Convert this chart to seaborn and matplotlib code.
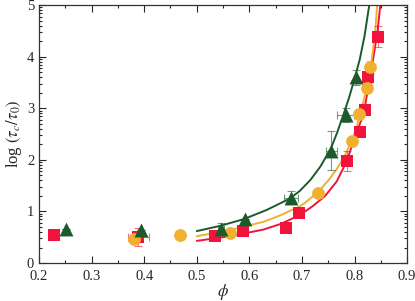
import numpy as np
import pandas as pd
import seaborn as sns
import matplotlib
matplotlib.use("Agg")
import matplotlib.pyplot as plt
from matplotlib.ticker import FixedLocator, MultipleLocator

# data
red_phi = [0.229, 0.389, 0.535, 0.587, 0.669, 0.695, 0.785, 0.811, 0.820, 0.825, 0.844]
red_y = [0.54, 0.51, 0.53, 0.63, 0.68, 0.97, 1.98, 2.55, 2.97, 3.60, 4.39]
red_xerr = [0, 0.02, 0, 0, 0, 0, 0.005, 0, 0, 0, 0.006]
red_yerr = [0, 0.17, 0, 0, 0, 0, 0.2, 0, 0, 0.1, 0.2]

orange_phi = [0.380, 0.468, 0.563, 0.730, 0.795, 0.809, 0.823, 0.830]
orange_y = [0.47, 0.54, 0.58, 1.36, 2.37, 2.88, 3.39, 3.80]
orange_xerr = [0, 0, 0, 0, 0, 0.004, 0, 0.004]
orange_yerr = [0, 0, 0, 0, 0, 0.08, 0.08, 0.12]

green_phi = [0.252, 0.394, 0.546, 0.592, 0.679, 0.756, 0.783, 0.803]
green_y = [0.66, 0.65, 0.67, 0.86, 1.27, 2.18, 2.87, 3.60]
green_xerr = [0, 0, 0.006, 0, 0.013, 0.01, 0.016, 0]
green_yerr = [0, 0, 0.1, 0, 0.12, 0.38, 0.13, 0.15]

# fit curves, points
red_fit_phi = [0.500, 0.563, 0.627, 0.660, 0.696, 0.720, 0.744, 0.766, 0.785, 0.801,
               0.814, 0.820, 0.826, 0.832, 0.838, 0.844, 0.849]
red_fit_y = [0.43, 0.52, 0.65, 0.76, 0.93, 1.10, 1.30, 1.58, 1.97, 2.45,
             2.80, 3.05, 3.40, 3.75, 4.12, 4.52, 5.0]
orange_fit_phi = [0.500, 0.563, 0.627, 0.660, 0.696, 0.706, 0.731, 0.750, 0.766, 0.781,
                  0.795, 0.803, 0.811, 0.817, 0.823, 0.828, 0.833, 0.837, 0.840, 0.843]
orange_fit_y = [0.52, 0.64, 0.80, 0.93, 1.10, 1.17, 1.38, 1.60, 1.82, 2.07,
                2.38, 2.60, 2.90, 3.14, 3.40, 3.66, 3.96, 4.28, 4.58, 5.0]
green_fit_phi = [0.500, 0.544, 0.589, 0.633, 0.677, 0.696, 0.716, 0.735, 0.755, 0.767,
                 0.779, 0.790, 0.801, 0.810, 0.819, 0.828]
green_fit_y = [0.62, 0.72, 0.85, 1.03, 1.25, 1.40, 1.61, 1.87, 2.22, 2.53,
               2.88, 3.22, 3.61, 3.95, 4.40, 5.0]

c_red = "#f0143c"
c_orange = "#f0b030"
c_green = "#1c5a2c"

sns.set_style("ticks")
plt.rcParams['font.family'] = ['Liberation Serif', 'DejaVu Serif']
plt.rcParams['mathtext.fontset'] = 'stix'

fig = plt.figure(figsize=(4.15, 3.01), dpi=100)
ax = fig.add_axes([0.094, 0.126, 0.887, 0.857])

sets = [
    (red_phi, red_y, red_xerr, red_yerr, c_red, "s", 80),
    (orange_phi, orange_y, orange_xerr, orange_yerr, c_orange, "o", 85),
    (green_phi, green_y, green_xerr, green_yerr, c_green, "^", 100),
]
fits = [
    (red_fit_phi, red_fit_y, c_red),
    (orange_fit_phi, orange_fit_y, c_orange),
    (green_fit_phi, green_fit_y, c_green),
]

for phi, y, c in fits:
    sns.lineplot(x=phi, y=y, color=c, lw=1.4, ax=ax, sort=False, zorder=2)

for phi, y, xe, ye, c, m, s in sets:
    ax.errorbar(phi, y, xerr=xe, yerr=ye, fmt="none", ecolor=c, alpha=0.6,
                elinewidth=0.8, capsize=3, capthick=0.8, zorder=3)
    df = pd.DataFrame({"phi": phi, "y": y})
    sns.scatterplot(data=df, x="phi", y="y", color=c, marker=m, s=s,
                    linewidth=0, ax=ax, zorder=4)

ax.set_xlim(0.2, 0.9)
ax.set_ylim(0, 5)
ax.xaxis.set_major_locator(MultipleLocator(0.1))
ax.xaxis.set_minor_locator(MultipleLocator(0.05))
ax.yaxis.set_major_locator(MultipleLocator(1))
minors = [n + np.log10(k) for n in range(5) for k in range(2, 10)]
ax.yaxis.set_minor_locator(FixedLocator(minors))
ax.tick_params(which="both", direction="in", top=True, right=True, labelsize=10.5, width=0.8)
ax.tick_params(which="major", length=5)
ax.tick_params(which="minor", length=2.5)
ax.tick_params(axis="x", pad=5)
for sp in ax.spines.values():
    sp.set_linewidth(0.9)
    sp.set_color("#333333")

ax.set_xlabel(r"$\phi$", fontsize=12, labelpad=-1)
ax.set_ylabel(r"log $(\tau_c/\tau_0)$", fontsize=12, labelpad=2)

fig.savefig("out.png", dpi=100)
